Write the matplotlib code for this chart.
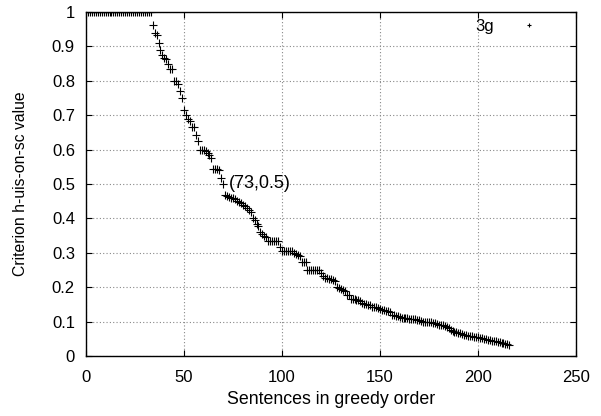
import matplotlib
matplotlib.use("Agg")
import matplotlib.pyplot as plt

plt.rcParams['font.family'] = ['Liberation Sans', 'DejaVu Sans']

# Criterion value for each sentence in greedy order (x = 1..216)
y_values = (
    [1.0] * 33 +
    [0.962, 0.938, 0.933, 0.909, 0.889, 0.875, 0.867, 0.864, 0.85, 0.833,
     0.833, 0.8, 0.8, 0.792, 0.769, 0.75, 0.714, 0.7, 0.688, 0.682,
     0.667, 0.667, 0.643, 0.625, 0.6, 0.6, 0.6, 0.596, 0.59, 0.583,
     0.577, 0.545, 0.545, 0.545, 0.541, 0.516, 0.5, 0.467, 0.465, 0.462,
     0.46, 0.458, 0.455, 0.452, 0.449, 0.446, 0.44, 0.435, 0.429, 0.423,
     0.42, 0.4, 0.394, 0.383, 0.379, 0.36, 0.355, 0.35, 0.347, 0.333,
     0.333, 0.333, 0.333, 0.333, 0.333, 0.316, 0.305, 0.305, 0.305, 0.305,
     0.305, 0.305, 0.3, 0.297, 0.294, 0.29, 0.273, 0.273, 0.273, 0.25,
     0.25, 0.25, 0.25, 0.25, 0.25, 0.25, 0.24, 0.232, 0.227, 0.226,
     0.225, 0.224, 0.222, 0.217, 0.2, 0.197, 0.196, 0.192, 0.188, 0.178,
     0.176, 0.167, 0.166, 0.165, 0.164, 0.162, 0.16, 0.153, 0.151, 0.15,
     0.149, 0.148, 0.143, 0.143, 0.142, 0.14, 0.136, 0.134, 0.133, 0.132,
     0.13, 0.128, 0.12, 0.118, 0.116, 0.115, 0.112, 0.111, 0.111, 0.11,
     0.11, 0.109, 0.109, 0.108, 0.107, 0.105, 0.104, 0.102, 0.1, 0.1,
     0.1, 0.099, 0.098, 0.097, 0.096, 0.094, 0.091, 0.09, 0.089, 0.087,
     0.085, 0.08, 0.076, 0.073, 0.071, 0.07, 0.068, 0.066, 0.064, 0.062,
     0.06, 0.059, 0.058, 0.057, 0.056, 0.055, 0.054, 0.053, 0.052, 0.05,
     0.048, 0.047, 0.046, 0.045, 0.044, 0.043, 0.042, 0.04, 0.038, 0.037,
     0.036, 0.035, 0.033]
)
x_values = list(range(1, len(y_values) + 1))

series_label = "3g"
annot_point = (73, 0.5)
annot_text = "(73,0.5)"
x_ticks = [0, 50, 100, 150, 200, 250]
y_ticks = [0, 0.1, 0.2, 0.3, 0.4, 0.5, 0.6, 0.7, 0.8, 0.9, 1]
y_tick_labels = ["0", "0.1", "0.2", "0.3", "0.4", "0.5", "0.6", "0.7", "0.8", "0.9", "1"]
x_label = "Sentences in greedy order"
y_label = "Criterion h-uis-on-sc value"

fig = plt.figure(figsize=(6.01, 4.16), dpi=100)
ax = fig.add_axes([86 / 601, 1 - 356 / 416, 490 / 601, 344 / 416])

ax.plot(x_values, y_values, linestyle='none', marker='+', color='black',
        markersize=5.5, markeredgewidth=0.8, label=series_label)

ax.set_xlim(0, 250)
ax.set_ylim(0, 1)
ax.set_xticks(x_ticks)
ax.set_yticks(y_ticks)
ax.set_yticklabels(y_tick_labels)
ax.tick_params(direction='in', length=4, width=0.8, top=True, right=True,
               labelsize=12, colors='black')
ax.tick_params(axis='x', pad=10)
ax.tick_params(axis='y', pad=8)
ax.grid(True, linestyle=(0, (1, 2)), color='#888888', linewidth=0.8)
for s in ax.spines.values():
    s.set_linewidth(1.0)
    s.set_color('black')

ax.set_xlabel(x_label, fontsize=12.8)
ax.xaxis.set_label_coords(0.5, -(399 - 356) / 344, transform=ax.transAxes)
ax.set_ylabel(y_label, fontsize=11.3)
ax.yaxis.set_label_coords(-(86 - 21) / 490, 0.5, transform=ax.transAxes)
ax.xaxis.label.set_va('center')
ax.yaxis.label.set_va('center')

ax.text(annot_point[0], annot_point[1], annot_text, fontsize=13,
        ha='left', va='center')

leg = ax.legend(loc='upper right', bbox_to_anchor=(0.951, 1.0),
                frameon=False, markerfirst=False, fontsize=12,
                handlelength=2.0, handletextpad=1.1, borderaxespad=0.0,
                borderpad=0.4, markerscale=0.6)

fig.savefig("out.png", dpi=100)
